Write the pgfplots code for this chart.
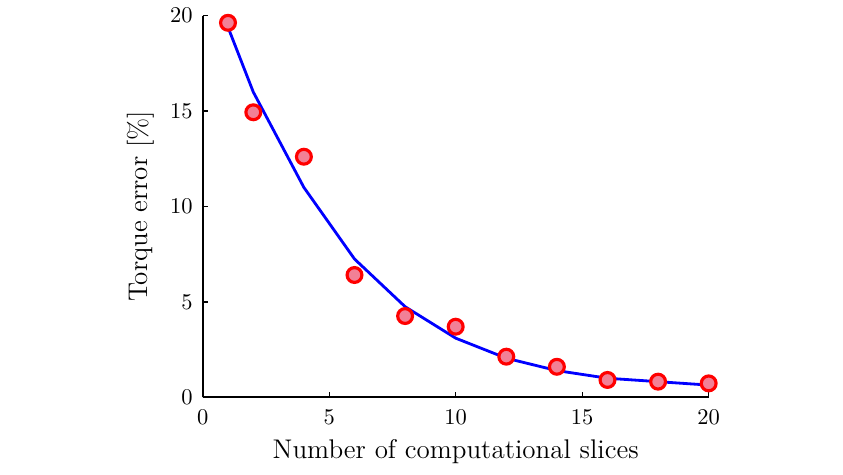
\documentclass[border=0pt]{standalone}
\usepackage{pgfplots}
\pgfplotsset{compat=1.18}
\definecolor{ptfill}{RGB}{242,128,150}
\begin{document}
\begin{tikzpicture}
\useasboundingbox (-90.1pt,-34.1pt) rectangle (284.6pt,176.6pt);
\begin{axis}[
  scale only axis,
  width=224.9pt, height=169.6pt,
  xmin=0, xmax=20, ymin=0, ymax=20,
  axis lines=left,
  axis line style={-, line width=0.75pt},
  xtick={0,5,10,15,20}, ytick={0,5,10,15,20},
  tick style={black, line width=0.6pt},
  major tick length=2.2pt,
  tick align=inside,
  xlabel={\large Number of computational slices},
  ylabel={\large Torque error [\%]},
  xticklabel style={yshift=-2pt},
  yticklabel style={xshift=-1pt},
  clip=false,
]
\addplot[blue, line width=1.25pt] coordinates {
  (1,19.4) (2,16.0) (4,11.0) (6,7.25) (8,4.75) (10,3.1) (12,2.05) (14,1.4) (16,1.0) (18,0.82) (20,0.64)
};
\addplot[only marks, mark=*, mark size=3.3pt, mark options={draw=red, fill=ptfill, line width=1.4pt}] coordinates {
  (1,19.63) (2,14.94) (4,12.61) (6,6.41) (8,4.26) (10,3.70) (12,2.13) (14,1.60) (16,0.91) (18,0.82) (20,0.73)
};
\end{axis}
\end{tikzpicture}
\end{document}
